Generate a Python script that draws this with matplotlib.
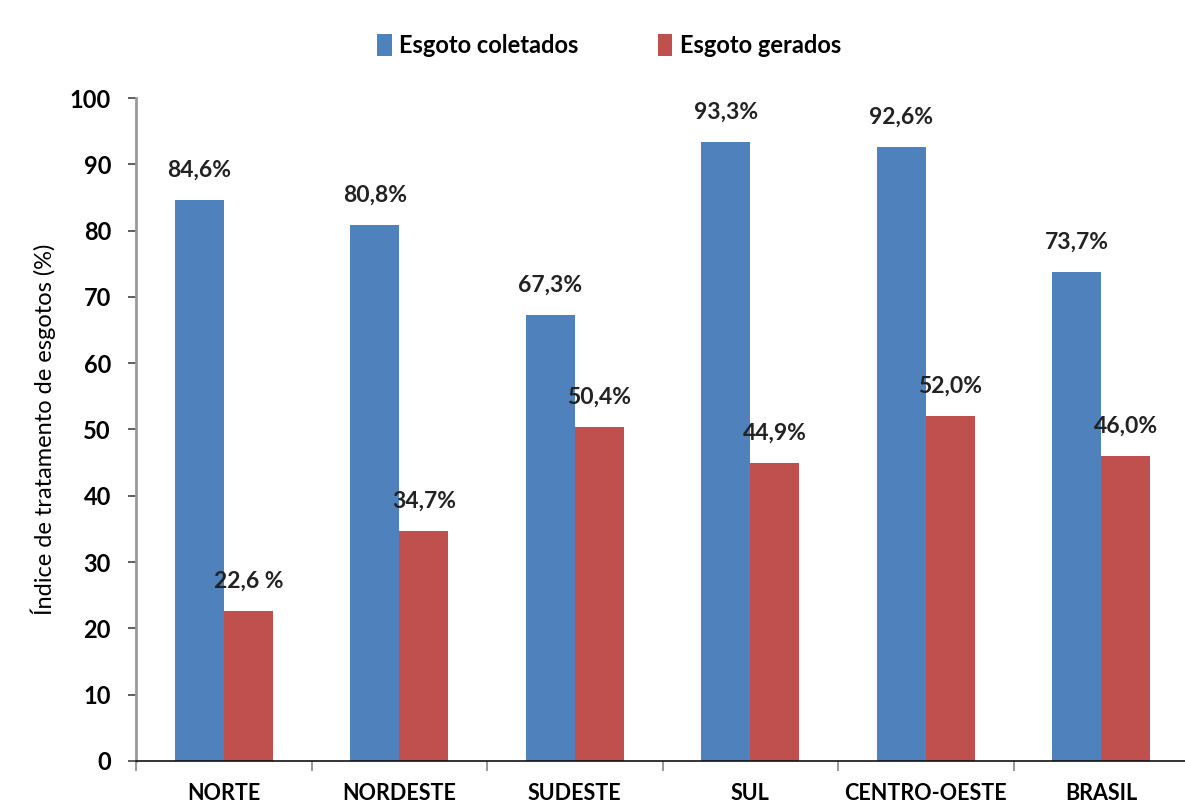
import numpy as np
import matplotlib
matplotlib.use("Agg")
import matplotlib.pyplot as plt

regions = ["NORTE", "NORDESTE", "SUDESTE", "SUL", "CENTRO-OESTE", "BRASIL"]
coletados = [84.6, 80.8, 67.3, 93.3, 92.6, 73.7]
gerados = [22.6, 34.7, 50.4, 44.9, 52.0, 46.0]
labels_coletados = ["84,6%", "80,8%", "67,3%", "93,3%", "92,6%", "73,7%"]
labels_gerados = ["22,6 %", "34,7%", "50,4%", "44,9%", "52,0%", "46,0%"]
yticks = [0, 10, 20, 30, 40, 50, 60, 70, 80, 90, 100]

BLUE = "#4F81BD"
RED = "#C0504D"

plt.rcParams["font.family"] = ["Lato", "DejaVu Sans"]

fig = plt.figure(figsize=(11.85, 8.08), dpi=100)
ax = fig.add_axes([0.1148, 0.0582, 0.8886, 0.8205])

x = np.arange(len(regions))
w = 0.28
b1 = ax.bar(x - w / 2, coletados, w, color=BLUE, label="Esgoto coletados")
b2 = ax.bar(x + w / 2, gerados, w, color=RED, label="Esgoto gerados")

for xi, v, s in zip(x - w / 2, coletados, labels_coletados):
    ax.text(xi, v + 2.9, s, ha="center", va="bottom", fontsize=16.5,
            fontweight="bold", color="#222222")
for xi, v, s in zip(x + w / 2, gerados, labels_gerados):
    ax.text(xi, v + 2.9, s, ha="center", va="bottom", fontsize=16.5,
            fontweight="bold", color="#222222")

ax.set_xlim(-0.5, 5.5)
ax.set_ylim(0, 100)
ax.set_yticks(yticks)
ax.set_yticklabels([str(t) for t in yticks], fontsize=17, fontweight="bold")
ax.set_ylabel("Índice de tratamento de esgotos (%)", fontsize=17, labelpad=10)

# category labels centred, ticks drawn between groups
ax.set_xticks(x)
ax.set_xticklabels(regions, fontsize=15.5, fontweight="bold")
ax.tick_params(axis="x", length=0, pad=16)
ax.set_xticks(np.arange(-0.5, 6.0, 1.0), minor=True)
ax.tick_params(axis="x", which="minor", length=7, color="#888888", width=1.2)
ax.tick_params(axis="y", length=6, width=1.2, color="#444444", pad=12)

for side in ("top", "right"):
    ax.spines[side].set_visible(False)
ax.spines["left"].set_color("#999999")
ax.spines["left"].set_linewidth(2)
ax.spines["bottom"].set_color("#111111")
ax.spines["bottom"].set_linewidth(1.2)

fig.legend(handles=[b1, b2], loc="center", bbox_to_anchor=(0.514, 0.944),
           ncol=2, frameon=False, handlelength=0.6,
           handleheight=1.1, handletextpad=0.3, columnspacing=3.4,
           prop={"weight": "bold", "size": 17})

fig.savefig("out.png", dpi=100)
